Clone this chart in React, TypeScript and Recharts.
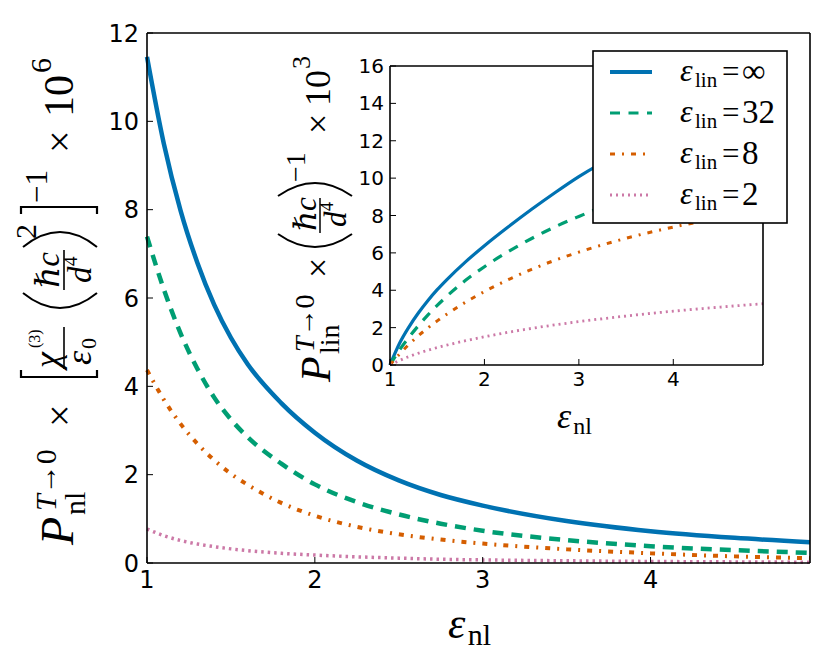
import { LineChart, Line, XAxis, YAxis, CartesianGrid, Legend } from "recharts";

// eps_nl sample points shared by both panels
const EPS_NL = [1, 1.1, 1.2, 1.3, 1.4, 1.5, 1.6, 1.8, 2, 2.25, 2.5, 2.75, 3, 3.5, 4, 4.5, 4.95];

// main panel: P_nl (x 1e6)
const NL_INF = [11.46, 9.5, 7.98, 6.8, 5.85, 5.1, 4.5, 3.62, 2.95, 2.32, 1.87, 1.54, 1.3, 0.95, 0.72, 0.57, 0.47];
const NL_32 = [7.39, 6.2, 5.2, 4.4, 3.75, 3.25, 2.85, 2.25, 1.78, 1.38, 1.1, 0.89, 0.73, 0.52, 0.38, 0.29, 0.23];
const NL_8 = [4.37, 3.7, 3.15, 2.7, 2.33, 2.02, 1.77, 1.36, 1.07, 0.82, 0.65, 0.53, 0.44, 0.31, 0.22, 0.15, 0.11];
const NL_2 = [0.77, 0.62, 0.51, 0.43, 0.37, 0.32, 0.28, 0.22, 0.18, 0.14, 0.11, 0.085, 0.07, 0.05, 0.035, 0.025, 0.018];

// inset: P_lin (x 1e3)
const LIN_INF = [0, 1.15, 2.03, 2.78, 3.44, 4.03, 4.56, 5.52, 6.38, 7.38, 8.33, 9.23, 10.08, 11.5, 12.7, 13.7, 14.5];
const LIN_32 = [0, 0.8, 1.48, 2.1, 2.67, 3.19, 3.67, 4.53, 5.26, 6.06, 6.77, 7.4, 7.95, 8.95, 9.8, 10.5, 11.1];
const LIN_8 = [0, 0.58, 1.1, 1.56, 1.98, 2.36, 2.71, 3.36, 3.93, 4.56, 5.12, 5.61, 6.04, 6.78, 7.38, 7.88, 8.28];
const LIN_2 = [0, 0.24, 0.45, 0.63, 0.79, 0.93, 1.06, 1.3, 1.51, 1.75, 1.96, 2.15, 2.32, 2.62, 2.88, 3.1, 3.28];

const EPS_LIN_LABELS = ["∞", "32", "8", "2"];
const X_TICKS = [1, 2, 3, 4];
const MAIN_Y_TICKS = [0, 2, 4, 6, 8, 10, 12];
const INSET_Y_TICKS = [0, 2, 4, 6, 8, 10, 12, 14, 16];

const SERIF = "'Liberation Serif', 'DejaVu Serif', serif";
const SANS = "'DejaVu Sans', sans-serif";

const SERIES = [
  { key: "inf", color: "#0072B2", mainW: 4.5, insetW: 3.2, legendW: 4, mainDash: undefined, insetDash: undefined },
  { key: "e32", color: "#009E73", mainW: 4.5, insetW: 3.2, legendW: 3.2, mainDash: "11 8", insetDash: "10 8.5" },
  { key: "e8", color: "#D55E00", mainW: 4, insetW: 3, legendW: 3, mainDash: "5 7 2 7", insetDash: "5 7 2 7" },
  { key: "e2", color: "#CC79A7", mainW: 3.5, insetW: 2.8, legendW: 2.8, mainDash: "2.5 4", insetDash: "2 4" },
];

const mainData = EPS_NL.map((x, i) => ({ x, inf: NL_INF[i], e32: NL_32[i], e8: NL_8[i], e2: NL_2[i] }));
const insetData = EPS_NL.map((x, i) => ({ x, inf: LIN_INF[i], e32: LIN_32[i], e8: LIN_8[i], e2: LIN_2[i] }));

const AXIS_LINE = { stroke: "#000", strokeWidth: 1.6 };
const TICK_LINE = { stroke: "#000", strokeWidth: 1 };

// y label of the main panel, drawn in a rotated frame (x along the text, y across it)
function MainYLabel({ viewBox }: any) {
  const { x, y, height } = viewBox;
  return (
    <g transform={`translate(${x + 73}, ${y + height - 18}) rotate(-90)`} fill="#000" fontFamily={SERIF}>
      <text x={0} y={0} fontSize={46} fontStyle="italic">P</text>
      <text x={34} y={-17} fontSize={30}>
        <tspan fontStyle="italic">T</tspan>→0
      </text>
      <text x={30} y={12} fontSize={30}>nl</text>
      <text x={118} y={0} fontSize={40}>×</text>
      <path d="M175,-52 L168,-52 L168,24 L175,24" stroke="#000" strokeWidth={2.2} fill="none" />
      <text x={177} y={-14} fontSize={36} fontStyle="italic">χ</text>
      <text x={197} y={-33} fontSize={16}>(3)</text>
      <line x1={176} x2={218} y1={-9} y2={-9} stroke="#000" strokeWidth={1.6} />
      <text x={180} y={18} fontSize={36} fontStyle="italic">ε</text>
      <text x={196} y={23} fontSize={22}>0</text>
      <path d="M252,-50 Q222,-13 252,24" stroke="#000" strokeWidth={2} fill="none" />
      <text x={257} y={-14} fontSize={33} fontStyle="italic">ℏc</text>
      <line x1={255} x2={295} y1={-9} y2={-9} stroke="#000" strokeWidth={1.6} />
      <text x={262} y={18} fontSize={33} fontStyle="italic">d</text>
      <text x={279} y={4} fontSize={19}>4</text>
      <path d="M298,-50 Q328,-13 298,24" stroke="#000" strokeWidth={2} fill="none" />
      <text x={306} y={-37} fontSize={30}>2</text>
      <path d="M331,-52 L338,-52 L338,24 L331,24" stroke="#000" strokeWidth={2.2} fill="none" />
      <text x={342} y={-26} fontSize={31}>−1</text>
      <text x={392} y={0} fontSize={40}>×</text>
      <text x={428} y={0} fontSize={42}>10</text>
      <text x={472} y={-22} fontSize={30}>6</text>
    </g>
  );
}

function InsetYLabel({ viewBox }: any) {
  const { x, y, height } = viewBox;
  return (
    <g transform={`translate(${x + 80}, ${y + height + 17}) rotate(-90)`} fill="#000" fontFamily={SERIF}>
      <text x={0} y={0} fontSize={42} fontStyle="italic">P</text>
      <text x={30} y={-16} fontSize={28}>
        <tspan fontStyle="italic">T</tspan>→0
      </text>
      <text x={28} y={9} fontSize={28}>lin</text>
      <text x={104} y={0} fontSize={36}>×</text>
      <path d="M148,-52 Q122,-15 148,22" stroke="#000" strokeWidth={2} fill="none" />
      <text x={151} y={-14} fontSize={31} fontStyle="italic">ℏc</text>
      <line x1={149} x2={184} y1={-10} y2={-10} stroke="#000" strokeWidth={1.5} />
      <text x={155} y={16} fontSize={31} fontStyle="italic">d</text>
      <text x={171} y={3} fontSize={18}>4</text>
      <path d="M186,-52 Q212,-15 186,22" stroke="#000" strokeWidth={2} fill="none" />
      <text x={200} y={-25} fontSize={28}>−1</text>
      <text x={248} y={0} fontSize={36}>×</text>
      <text x={276} y={0} fontSize={36}>10</text>
      <text x={313} y={-20} fontSize={26}>3</text>
    </g>
  );
}

function EpsNlLabel({ viewBox, dx, dy, big, small }: any) {
  const { x, y } = viewBox;
  return (
    <g fill="#000" fontFamily={SERIF}>
      <text x={x + dx} y={y + dy} fontSize={big} fontStyle="italic">ε</text>
      <text x={x + dx + big * 0.45} y={y + dy + big * 0.17} fontSize={small}>nl</text>
    </g>
  );
}

function InsetLegend(props: any) {
  const payload: any[] = props.payload ?? [];
  return (
    <svg width={196} height={174} style={{ display: "block" }}>
      <rect x={1} y={1} width={194} height={172} fill="#fff" stroke="#000" strokeWidth={1.6} />
      {SERIES.map((s, i) => {
        const entry = payload.find((p) => p.dataKey === s.key);
        const cy = 22 + i * 41;
        return (
          <g key={s.key}>
            <line x1={18} x2={60} y1={cy} y2={cy} stroke={entry?.color ?? s.color} strokeWidth={s.legendW} strokeDasharray={s.insetDash} />
            <g fontFamily={SERIF} fill="#000">
              <text x={88} y={cy + 9} fontSize={32} fontStyle="italic">ε</text>
              <text x={103} y={cy + 15} fontSize={21}>lin</text>
              <text x={130} y={cy + 10} fontSize={31}>=</text>
              <text x={150} y={cy + 10} fontSize={33}>{entry?.value ?? EPS_LIN_LABELS[i]}</text>
            </g>
          </g>
        );
      })}
    </svg>
  );
}

export default function App() {
  const mainTick = { fill: "#000", fontSize: 24, fontFamily: SANS };
  const insetTick = { fill: "#000", fontSize: 20, fontFamily: SANS };
  return (
    <div style={{ position: "absolute", left: 0, top: 0, width: 830, height: 664, background: "#fff" }}>
      <div style={{ position: "absolute", left: 0, top: 0 }}>
        <LineChart width={830} height={664} data={mainData} margin={{ top: 32, right: 19, bottom: 61, left: 0 }}>
          <XAxis
            xAxisId="b"
            dataKey="x"
            type="number"
            domain={[1, 4.95]}
            ticks={X_TICKS}
            interval={0}
            height={40}
            axisLine={AXIS_LINE}
            tickLine={TICK_LINE}
            tickSize={-6}
            tickMargin={14}
            tick={mainTick}
            label={<EpsNlLabel dx={301} dy={75} big={44} small={30} />}
          />
          <XAxis xAxisId="t" dataKey="x" type="number" orientation="top" domain={[1, 4.95]} ticks={X_TICKS} height={1} axisLine={AXIS_LINE} tickLine={TICK_LINE} tickSize={-6} tick={false} />
          <YAxis
            yAxisId="l"
            domain={[0, 12]}
            ticks={MAIN_Y_TICKS}
            interval={0}
            width={147}
            axisLine={AXIS_LINE}
            tickLine={TICK_LINE}
            tickSize={-6}
            tickMargin={14}
            tick={mainTick}
            label={<MainYLabel />}
          />
          <YAxis yAxisId="r" orientation="right" domain={[0, 12]} ticks={MAIN_Y_TICKS} width={1} axisLine={AXIS_LINE} tickLine={TICK_LINE} tickSize={-6} tick={false} />
          {SERIES.map((s, i) => (
            <Line
              key={s.key}
              xAxisId="b"
              yAxisId="l"
              type="monotone"
              dataKey={s.key}
              name={EPS_LIN_LABELS[i]}
              stroke={s.color}
              strokeWidth={s.mainW}
              strokeDasharray={s.mainDash}
              dot={false}
              isAnimationActive={false}
            />
          ))}
        </LineChart>
      </div>
      <div style={{ position: "absolute", left: 250, top: 36 }}>
        <LineChart width={550} height={410} data={insetData} margin={{ top: 29, right: 36, bottom: 41, left: 0 }}>
          <CartesianGrid xAxisId="b" yAxisId="l" fill="#fff" horizontal={false} vertical={false} />
          <XAxis
            xAxisId="b"
            dataKey="x"
            type="number"
            domain={[1, 4.95]}
            ticks={X_TICKS}
            interval={0}
            height={40}
            axisLine={AXIS_LINE}
            tickLine={TICK_LINE}
            tickSize={-6}
            tickMargin={13}
            tick={insetTick}
            label={<EpsNlLabel dx={167} dy={63} big={36} small={24} />}
          />
          <XAxis xAxisId="t" dataKey="x" type="number" orientation="top" domain={[1, 4.95]} ticks={X_TICKS} height={1} axisLine={AXIS_LINE} tickLine={TICK_LINE} tickSize={-6} tick={false} />
          <YAxis
            yAxisId="l"
            domain={[0, 16]}
            ticks={INSET_Y_TICKS}
            interval={0}
            width={140}
            axisLine={AXIS_LINE}
            tickLine={TICK_LINE}
            tickSize={-6}
            tickMargin={12}
            tick={insetTick}
            label={<InsetYLabel />}
          />
          <YAxis yAxisId="r" orientation="right" domain={[0, 16]} ticks={INSET_Y_TICKS} width={1} axisLine={AXIS_LINE} tickLine={TICK_LINE} tickSize={-6} tick={false} />
          {SERIES.map((s, i) => (
            <Line
              key={s.key}
              xAxisId="b"
              yAxisId="l"
              type="monotone"
              dataKey={s.key}
              name={EPS_LIN_LABELS[i]}
              stroke={s.color}
              strokeWidth={s.insetW}
              strokeDasharray={s.insetDash}
              dot={false}
              isAnimationActive={false}
            />
          ))}
          <Legend
            layout="vertical"
            align="center"
            verticalAlign="middle"
            content={<InsetLegend />}
            wrapperStyle={{ left: 342, top: 14, width: 196, height: 174 }}
          />
        </LineChart>
      </div>
    </div>
  );
}
